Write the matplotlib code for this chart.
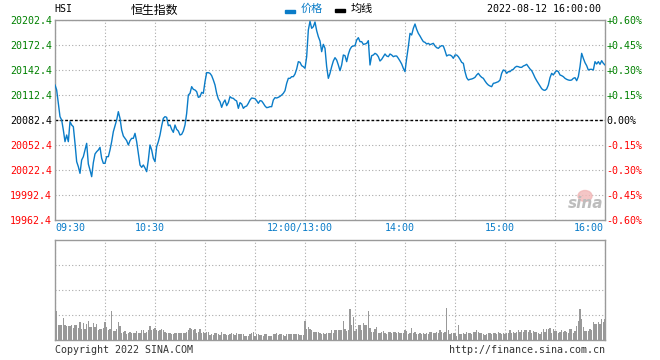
import matplotlib
matplotlib.use("Agg")
import matplotlib.pyplot as plt
from matplotlib.patches import Rectangle, Ellipse
import numpy as np

# ---------------- data ----------------
prev_close = 20082.4
prices = [
    20124.4, 20118.4, 20102.4, 20086.4, 20082.4, 20070.4, 20056.4, 20064.4, 20056.4, 20080.4,
    20076.4, 20074.4, 20054.4, 20032.4, 20026.4, 20018.4, 20034.4, 20038.4, 20046.4, 20054.4,
    20029.6, 20022.4, 20014.4, 20031.2, 20041.6, 20044.4, 20046.4, 20049.6, 20036.4, 20030.4,
    20030.4, 20038.4, 20038.4, 20046.4, 20056.4, 20068.4, 20075.2, 20082.4, 20092.4, 20084.4,
    20070.4, 20063.2, 20060.4, 20057.6, 20052.4, 20057.6, 20060.4, 20060.4, 20066.4, 20056.4,
    20042.4, 20028.4, 20025.6, 20028.4, 20024.8, 20020.4, 20034.4, 20052.4, 20046.4, 20036.4,
    20032.4, 20050.4, 20056.4, 20064.4, 20075.2, 20084.4, 20086.4, 20085.6, 20075.6, 20076.4,
    20071.2, 20067.6, 20076.4, 20071.2, 20069.2, 20064.4, 20065.2, 20069.2, 20076.4, 20090.4,
    20112.4, 20114.4, 20122.4, 20119.2, 20118.4, 20116.4, 20109.6, 20110.4, 20115.6, 20114.4,
    20128.4, 20139.2, 20139.2, 20138.4, 20135.6, 20130.4, 20124.4, 20114.4, 20107.6, 20104.4,
    20097.6, 20103.2, 20106.4, 20099.6, 20103.2, 20110.4, 20108.8, 20108.4, 20106.4, 20105.2,
    20096.4, 20103.2, 20101.6, 20096.4, 20098.4, 20099.2, 20102.4, 20106.4, 20108.8, 20108.4,
    20108.0, 20105.6, 20102.4, 20105.6, 20105.2, 20102.4, 20099.2, 20097.2, 20097.6, 20098.4,
    20098.4, 20106.4, 20109.2, 20108.8, 20109.6, 20110.8, 20112.4, 20114.4, 20117.6, 20126.4,
    20132.4, 20132.4, 20134.4, 20134.4, 20137.6, 20143.6, 20152.4, 20151.6, 20147.6, 20146.4,
    20144.4, 20158.4, 20190.4, 20200.8, 20192.4, 20194.4, 20200.0, 20189.6, 20182.4, 20177.2,
    20164.4, 20173.2, 20168.4, 20146.4, 20132.4, 20138.4, 20146.4, 20153.2, 20157.2, 20154.4,
    20148.4, 20141.6, 20148.4, 20160.4, 20159.6, 20152.4, 20161.2, 20167.2, 20170.4, 20171.2,
    20171.6, 20178.4, 20181.2, 20176.4, 20176.4, 20173.2, 20173.6, 20174.4, 20177.6, 20148.4,
    20159.6, 20160.4, 20162.4, 20161.2, 20158.4, 20153.2, 20155.2, 20158.4, 20161.6, 20159.2,
    20158.4, 20161.6, 20160.4, 20158.4, 20159.2, 20159.2, 20156.4, 20153.2, 20149.6, 20144.4,
    20140.4, 20156.4, 20170.4, 20186.4, 20184.4, 20192.4, 20197.6, 20191.2, 20186.4, 20183.2,
    20179.6, 20176.4, 20175.6, 20173.6, 20174.4, 20172.8, 20173.6, 20174.4, 20171.2, 20169.2,
    20168.4, 20170.4, 20171.6, 20171.2, 20165.6, 20159.2, 20160.4, 20160.4, 20159.2, 20156.4,
    20160.4, 20160.4, 20158.4, 20155.2, 20151.6, 20150.4, 20140.4, 20133.2, 20130.4, 20131.2,
    20131.6, 20132.4, 20133.6, 20136.4, 20138.4, 20135.6, 20133.6, 20132.4, 20129.2, 20126.4,
    20124.4, 20123.2, 20122.4, 20126.4, 20126.8, 20127.6, 20128.4, 20130.4, 20138.4, 20142.4,
    20141.6, 20138.4, 20140.4, 20140.4, 20142.4, 20143.2, 20145.6, 20146.8, 20146.4, 20145.6,
    20145.6, 20147.2, 20148.0, 20149.2, 20146.4, 20143.6, 20141.6, 20137.6, 20133.2, 20129.6,
    20126.4, 20123.2, 20120.0, 20118.4, 20118.0, 20119.6, 20124.4, 20133.2, 20138.4, 20136.4,
    20139.6, 20141.6, 20140.4, 20136.4, 20135.6, 20134.4, 20132.4, 20131.2, 20130.4, 20130.0,
    20130.4, 20132.4, 20133.2, 20129.6, 20134.4, 20146.4, 20162.4, 20156.4, 20151.2, 20147.6,
    20142.4, 20143.2, 20143.2, 20142.4, 20152.4, 20149.6, 20152.4, 20149.2, 20153.6, 20150.4,
    20148.4,
]
volumes = [
    120, 88, 45, 45, 45, 65, 45, 42, 42, 42,
    45, 35, 45, 45, 35, 53, 33, 50, 33, 48,
    57, 38, 38, 50, 38, 47, 30, 33, 33, 35,
    53, 38, 30, 33, 87, 27, 27, 32, 53, 42,
    22, 25, 27, 18, 20, 24, 22, 20, 20, 28,
    20, 22, 30, 30, 22, 25, 30, 42, 30, 32,
    35, 30, 28, 30, 32, 30, 25, 22, 22, 20,
    18, 18, 22, 20, 20, 22, 20, 20, 22, 25,
    30, 37, 32, 30, 32, 22, 24, 32, 22, 23,
    22, 23, 24, 15, 17, 15, 20, 20, 18, 15,
    23, 17, 17, 15, 16, 17, 20, 17, 15, 22,
    17, 17, 18, 17, 13, 13, 13, 17, 20, 23,
    12, 17, 17, 15, 15, 12, 17, 17, 12, 13,
    13, 17, 18, 20, 15, 17, 17, 15, 13, 17,
    18, 17, 17, 17, 17, 17, 18, 15, 15, 15,
    57, 32, 40, 32, 30, 25, 25, 23, 25, 20,
    18, 22, 18, 20, 22, 20, 30, 20, 30, 30,
    30, 30, 30, 57, 32, 27, 30, 93, 45, 68,
    27, 32, 45, 45, 30, 52, 45, 45, 87, 37,
    25, 25, 32, 40, 20, 22, 25, 28, 20, 17,
    24, 24, 20, 24, 24, 20, 24, 20, 22, 20,
    30, 27, 17, 20, 37, 22, 25, 17, 17, 20,
    18, 20, 18, 20, 17, 23, 23, 20, 20, 24,
    20, 30, 25, 22, 23, 97, 30, 17, 20, 20,
    22, 12, 45, 18, 17, 20, 18, 24, 20, 20,
    17, 24, 25, 30, 25, 20, 22, 17, 15, 18,
    20, 20, 18, 20, 20, 18, 25, 20, 17, 20,
    18, 20, 22, 30, 20, 25, 22, 25, 30, 24,
    30, 24, 30, 30, 25, 30, 20, 27, 25, 25,
    20, 17, 25, 33, 25, 32, 33, 35, 22, 32,
    28, 28, 22, 25, 30, 25, 28, 25, 20, 32,
    32, 22, 28, 43, 57, 93, 62, 38, 28, 28,
    28, 32, 30, 55, 47, 48, 53, 47, 63, 53,
    62,
]
price_levels = [19962.4, 19992.4, 20022.4, 20052.4, 20082.4, 20112.4, 20142.4, 20172.4, 20202.4]
left_labels = ["19962.4", "19992.4", "20022.4", "20052.4", "20082.4",
               "20112.4", "20142.4", "20172.4", "20202.4"]
right_labels = ["-0.60%", "-0.45%", "-0.30%", "-0.15%", "0.00%",
                "+0.15%", "+0.30%", "+0.45%", "+0.60%"]
time_ticks = [0, 60, 150, 210, 270, 330]
time_labels = ["09:30", "10:30", "12:00/13:00", "14:00", "15:00", "16:00"]
total_minutes = 330

# ---------------- style ----------------
W, H = 660, 360
BLUE = "#0a7cc8"
GREEN = "#008000"
RED = "#ff0000"
GRID = "#aaaaaa"
SPINE = "#9a9a9a"
MONO = "DejaVu Sans Mono"
FS = 7.2

def fy(y):
    return 1 - y / H

fig = plt.figure(figsize=(W / 100, H / 100), dpi=100)
ax = fig.add_axes([55 / W, fy(220), 550 / W, 200 / H])
axv = fig.add_axes([55 / W, fy(340), 550 / W, 100 / H])

minutes = np.arange(len(prices))
vol_minutes = np.arange(len(volumes))

# ---------------- price panel ----------------
ax.plot(minutes, prices, color=BLUE, lw=1.0, zorder=3)
ax.axhline(prev_close, color="black", lw=1.0, linestyle=(0, (2, 1.5)), zorder=2)
ax.set_xlim(0, total_minutes)
ax.set_ylim(price_levels[0], price_levels[-1])
ax.set_xticks(np.arange(0, total_minutes + 1, 30))
ax.set_yticks(price_levels)
ax.grid(True, color=GRID, linestyle=(0, (1, 2)), lw=0.8)
ax.set_axisbelow(True)
ax.set_yticklabels(left_labels, fontfamily=MONO, fontsize=FS)
ax.tick_params(axis="y", length=0, pad=2.2)
ax.tick_params(axis="x", length=0, labelbottom=False)
for lbl, lv in zip(ax.get_yticklabels(), price_levels):
    lbl.set_color(GREEN if lv > prev_close else (RED if lv < prev_close else "black"))

ax2 = ax.twinx()
ax2.set_ylim(price_levels[0], price_levels[-1])
ax2.set_yticks(price_levels)
ax2.set_yticklabels(right_labels, fontfamily=MONO, fontsize=FS)
ax2.tick_params(axis="y", length=0, pad=1.2)
for lbl, lv in zip(ax2.get_yticklabels(), price_levels):
    lbl.set_color(GREEN if lv > prev_close else (RED if lv < prev_close else "black"))
for s in ax2.spines.values():
    s.set_visible(False)

for a in (ax, axv):
    for s in a.spines.values():
        s.set_color(SPINE)
        s.set_linewidth(1.0)

# time labels
for t, lab in zip(time_ticks, time_labels):
    if t == 0:
        ha, dx = "left", 0
    elif t == total_minutes:
        ha, dx = "right", -1
    else:
        ha, dx = "center", -5.5
    ax.annotate(lab, xy=(t, price_levels[0]), xycoords="data",
                xytext=(dx, -7.7), textcoords="offset pixels",
                ha=ha, va="center", color=BLUE, fontfamily=MONO, fontsize=FS,
                annotation_clip=False)

# ---------------- volume panel ----------------
axv.bar(vol_minutes, volumes, width=0.65, color="#999999", linewidth=0, zorder=3)
axv.set_xlim(0, total_minutes)
axv.set_ylim(0, 300)
axv.set_xticks(np.arange(0, total_minutes + 1, 30))
axv.set_yticks([75, 150, 225])
axv.grid(True, color=GRID, linestyle=(0, (1, 2)), lw=0.8)
axv.set_axisbelow(True)
axv.tick_params(length=0, labelbottom=False, labelleft=False)

# ---------------- header ----------------
fig.text(54 / W, fy(9), "HSI", fontfamily=MONO, fontsize=FS, color="black", va="center", ha="left")
fig.text(154 / W, fy(10), "恒生指数", fontfamily=["Noto Sans CJK SC", "DejaVu Sans"],
         fontsize=8.6, color="black", va="center", ha="center")
fig.patches.append(Rectangle((285 / W, fy(12.7)), 10 / W, 3 / H, color=BLUE,
                             transform=fig.transFigure, figure=fig))
fig.text(301 / W, fy(8.5), "价格", fontfamily=["Noto Sans CJK SC", "DejaVu Sans"],
         fontsize=8, color=BLUE, va="center", ha="left")
fig.patches.append(Rectangle((335 / W, fy(12.0)), 10 / W, 3 / H, color="black",
                             transform=fig.transFigure, figure=fig))
fig.text(351 / W, fy(8.5), "均线", fontfamily=["Noto Sans CJK SC", "DejaVu Sans"],
         fontsize=8, color="black", va="center", ha="left")
fig.text(601 / W, fy(9), "2022-08-12 16:00:00", fontfamily=MONO, fontsize=FS,
         color="black", va="center", ha="right")

# ---------------- footer ----------------
fig.text(55 / W, fy(350), "Copyright 2022 SINA.COM", fontfamily=MONO, fontsize=FS,
         color="#333333", va="center", ha="left")
fig.text(605 / W, fy(350), "http://finance.sina.com.cn", fontfamily=MONO, fontsize=FS,
         color="#333333", va="center", ha="right")

# ---------------- watermark ----------------
fig.patches.append(Ellipse((585 / W, fy(196)), 14 / W, 11 / H, color="#f2b8b8", alpha=0.8,
                           transform=fig.transFigure, figure=fig))
fig.text(586 / W, fy(204), "sina", fontsize=11, fontweight="bold", style="italic",
         color="#bdbdbd", va="center", ha="center")

fig.savefig("out.png", dpi=100)
